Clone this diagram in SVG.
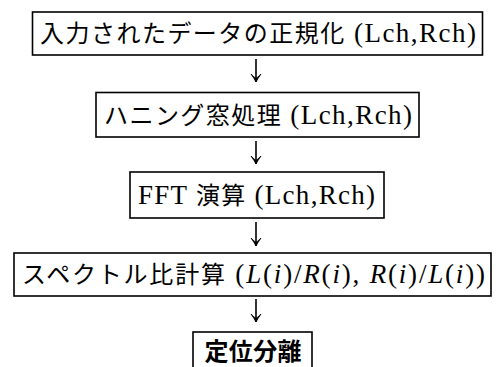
<svg xmlns="http://www.w3.org/2000/svg" width="496" height="367" viewBox="0 0 496 367">
<defs>
<style>
.box{fill:#fff;stroke:#000;stroke-width:1.6}
.t{font-family:"Liberation Serif","Noto Sans CJK JP",serif;font-size:24px;fill:#000;text-anchor:middle}
.l{font-size:27px}
.i{font-style:italic}
.b{font-weight:bold}
.arr{stroke:#000;stroke-width:1.6;fill:none}
</style>
<marker id="ah" markerUnits="userSpaceOnUse" markerWidth="16" markerHeight="16" viewBox="-8 -8 16 16" refX="0" refY="0" orient="auto">
<path d="M0,0 Q-3,-1.5 -8,-5 Q-4.5,-1.5 -3.5,0 Q-4.5,1.5 -8,5 Q-3,1.5 0,0 Z" fill="#000" stroke="#000" stroke-width="0.8" stroke-linejoin="round"/>
</marker>
</defs>
<rect width="496" height="367" fill="#fff"/>
<g id="connectors">
<line class="arr" x1="256" y1="59" x2="256" y2="82" marker-end="url(#ah)"/>
<line class="arr" x1="256" y1="141" x2="256" y2="164" marker-end="url(#ah)"/>
<line class="arr" x1="256" y1="222" x2="256" y2="246" marker-end="url(#ah)"/>
<line class="arr" x1="256" y1="299" x2="256" y2="322" marker-end="url(#ah)"/>
</g>
<g id="n1">
<rect class="box" x="32.5" y="12" width="450" height="43"/>
<text class="t" x="258" y="42" textLength="436" lengthAdjust="spacing">入力されたデータの正規化<tspan class="l"> (Lch,Rch)</tspan></text>
</g>
<g id="n2">
<rect class="box" x="96" y="92.5" width="323" height="44.5"/>
<text class="t" x="258" y="124" textLength="308" lengthAdjust="spacing">ハニング窓処理<tspan class="l"> (Lch,Rch)</tspan></text>
</g>
<g id="n3">
<rect class="box" x="130" y="172" width="254" height="46"/>
<text class="t" x="256.5" y="204" textLength="237" lengthAdjust="spacing"><tspan class="l">FFT </tspan>演算<tspan class="l"> (Lch,Rch)</tspan></text>
</g>
<g id="n4">
<rect class="box" x="14" y="253" width="477" height="43"/>
<text class="t" x="253.5" y="283" textLength="463" lengthAdjust="spacing">スペクトル比計算<tspan class="l"> (<tspan class="i">L</tspan>(<tspan class="i">i</tspan>)/<tspan class="i">R</tspan>(<tspan class="i">i</tspan>), <tspan class="i">R</tspan>(<tspan class="i">i</tspan>)/<tspan class="i">L</tspan>(<tspan class="i">i</tspan>))</tspan></text>
</g>
<g id="n5">
<rect class="box" x="193" y="332" width="119" height="50"/>
<text class="t b" x="253" y="360" textLength="97" lengthAdjust="spacing">定位分離</text>
</g>
</svg>
